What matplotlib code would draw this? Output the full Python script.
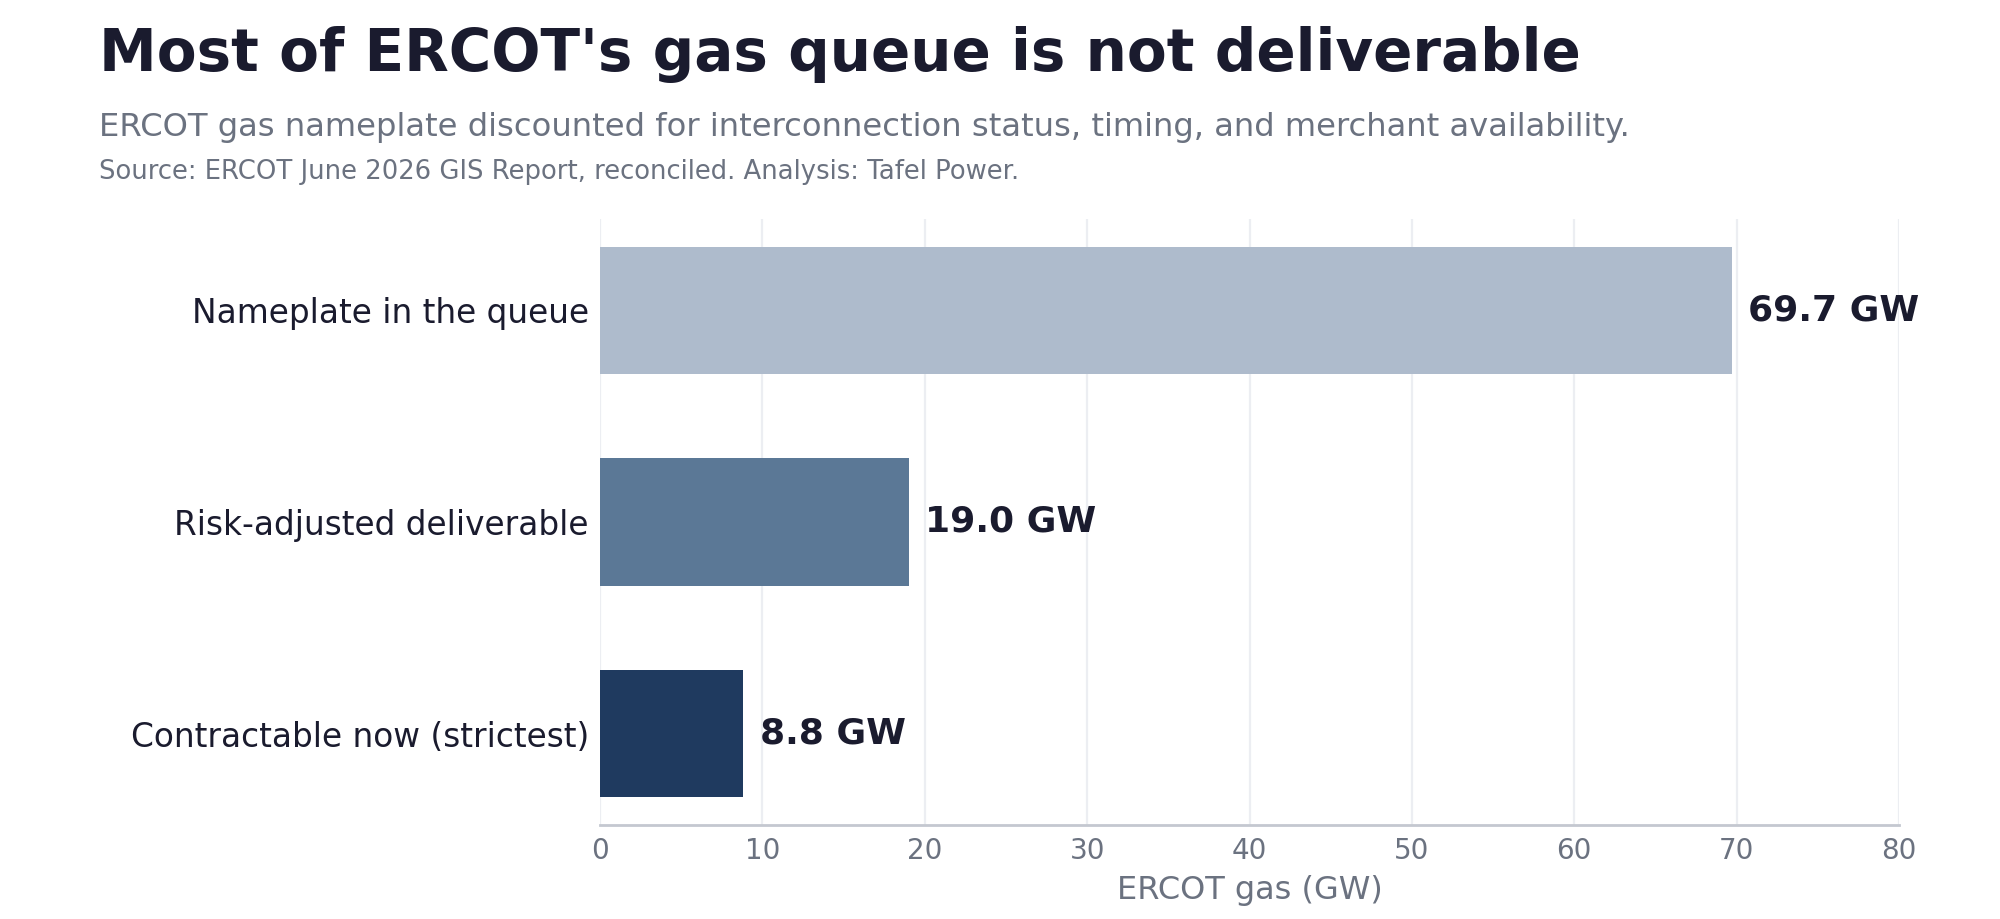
import matplotlib
matplotlib.use('Agg')
import matplotlib.pyplot as plt

plt.rcParams['font.family'] = ['DejaVu Sans']

# data
categories = ['Nameplate in the queue', 'Risk-adjusted deliverable', 'Contractable now (strictest)']
values = [69.7, 19.0, 8.8]
bar_colors = ['#aebbcc', '#5b7896', '#1f3a5f']

dark = '#1a1b2e'
gray = '#6b7280'

fig = plt.figure(figsize=(10, 4.595), dpi=200)
ax = fig.add_axes([0.30, 0.1023, 0.6495, 0.6594])

y = list(range(len(categories)))
ax.barh(y, values, height=0.6, color=bar_colors, zorder=3)
ax.invert_yaxis()
ax.set_yticks(y)
ax.set_yticklabels(categories, fontsize=11.8, color=dark)
ax.set_xlim(0, 80)
ax.set_xticks(range(0, 81, 10))
ax.tick_params(axis='x', labelsize=10, colors=gray, length=0, pad=4.5)
ax.tick_params(axis='y', length=0, pad=4)
ax.set_xlabel('ERCOT gas (GW)', fontsize=11.5, color=gray, labelpad=3.5)

ax.grid(axis='x', color='#eceef2', linewidth=0.8, zorder=0)
for s in ['top', 'right', 'left']:
    ax.spines[s].set_visible(False)
ax.spines['bottom'].set_color('#c4c8d0')
ax.spines['bottom'].set_linewidth(1.0)

# value labels
for yi, v in zip(y, values):
    ax.annotate(f'{v:.1f} GW', xy=(v, yi), xytext=(6, 0), textcoords='offset points',
                va='center', ha='left', fontsize=13, fontweight='bold', color=dark)

fig.text(0.0495, 0.972, "Most of ERCOT's gas queue is not deliverable",
         fontsize=20.9, fontweight='bold', color=dark, va='top', ha='left')
fig.text(0.0495, 0.878, 'ERCOT gas nameplate discounted for interconnection status, timing, and merchant availability.',
         fontsize=11.6, color=gray, va='top', ha='left')
fig.text(0.0495, 0.827, 'Source: ERCOT June 2026 GIS Report, reconciled. Analysis: Tafel Power.',
         fontsize=9.3, color=gray, va='top', ha='left')

fig.savefig('out.png', dpi=200, facecolor='white')
